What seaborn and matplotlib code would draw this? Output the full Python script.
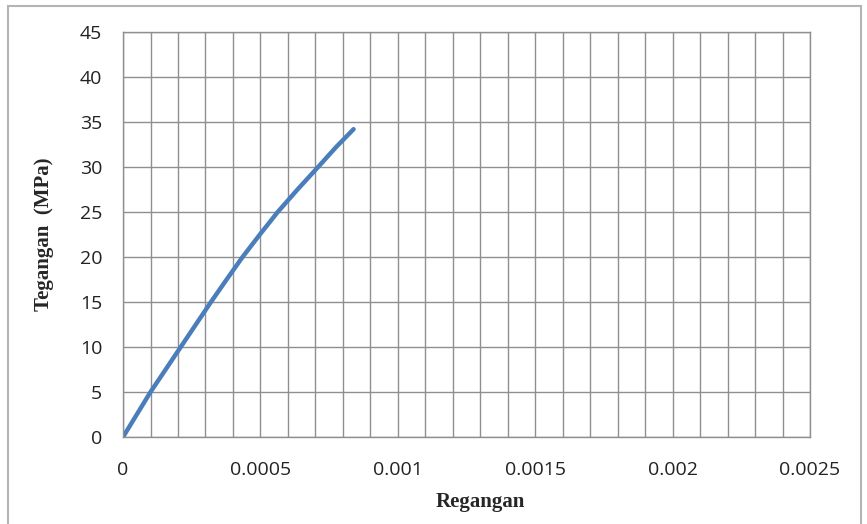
import numpy as np
import pandas as pd
import seaborn as sns
import matplotlib.pyplot as plt
from matplotlib.patches import Rectangle
from matplotlib.ticker import MultipleLocator

# Values
regangan = [0.0, 0.00005, 0.0001, 0.000155, 0.00021, 0.000265, 0.00032, 0.000377,
            0.000435, 0.000498, 0.000563, 0.000635, 0.00071, 0.000775, 0.000839]
tegangan = [0.0, 2.5, 5.0, 7.5, 10.0, 12.5, 15.0, 17.5,
            20.0, 22.5, 25.0, 27.5, 30.0, 32.2, 34.2]

x_ticks = [0, 0.0005, 0.001, 0.0015, 0.002, 0.0025]
x_tick_labels = ["0", "0.0005", "0.001", "0.0015", "0.002", "0.0025"]
y_ticks = [0, 5, 10, 15, 20, 25, 30, 35, 40, 45]

df = pd.DataFrame({"Regangan": regangan, "Tegangan": tegangan})

sns.set_style("white")
plt.rcParams["font.family"] = ["Open Sans", "DejaVu Sans"]

fig = plt.figure(figsize=(8.67, 5.24), dpi=100)
ax = fig.add_axes([0.1419, 0.166, 0.7924, 0.773])

grid_col = "#8f8f8f"
sns.lineplot(data=df, x="Regangan", y="Tegangan", ax=ax, sort=False,
             estimator=None, color="#4a7ebb", linewidth=3.2)

ax.set_xlim(0, 0.0025)
ax.set_ylim(0, 45)
ax.set_xticks(x_ticks)
ax.set_xticklabels(x_tick_labels)
ax.set_yticks(y_ticks)
ax.xaxis.set_minor_locator(MultipleLocator(0.0001))
ax.grid(True, which="both", axis="x", color=grid_col, linewidth=1.0)
ax.grid(True, which="major", axis="y", color=grid_col, linewidth=1.0)
ax.set_axisbelow(True)
ax.tick_params(axis="both", which="major", direction="out", length=7,
               width=1.0, color=grid_col, labelsize=14, labelcolor="#222222")
ax.tick_params(axis="x", which="major", pad=10)
ax.tick_params(axis="y", which="major", pad=8)
ax.tick_params(axis="x", which="minor", length=0)
for s in ax.spines.values():
    s.set_color(grid_col)
    s.set_linewidth(1.0)

ax.set_xlabel("Regangan", fontfamily="Liberation Serif", fontweight="bold",
              fontsize=15)
ax.xaxis.set_label_coords(0.52, -0.135)
ax.set_ylabel("Tegangan  (MPa)", fontfamily="Liberation Serif", fontweight="bold",
              fontsize=15)
ax.yaxis.set_label_coords(-0.1, 0.5)

# chart border like the source
fig.patches.append(Rectangle((8 / 867, -0.01), 853 / 867, 1 - 6 / 524 + 0.01,
                             transform=fig.transFigure, fill=False,
                             edgecolor="#b4b4b4", linewidth=1.5))

fig.savefig("out.png", dpi=100)
